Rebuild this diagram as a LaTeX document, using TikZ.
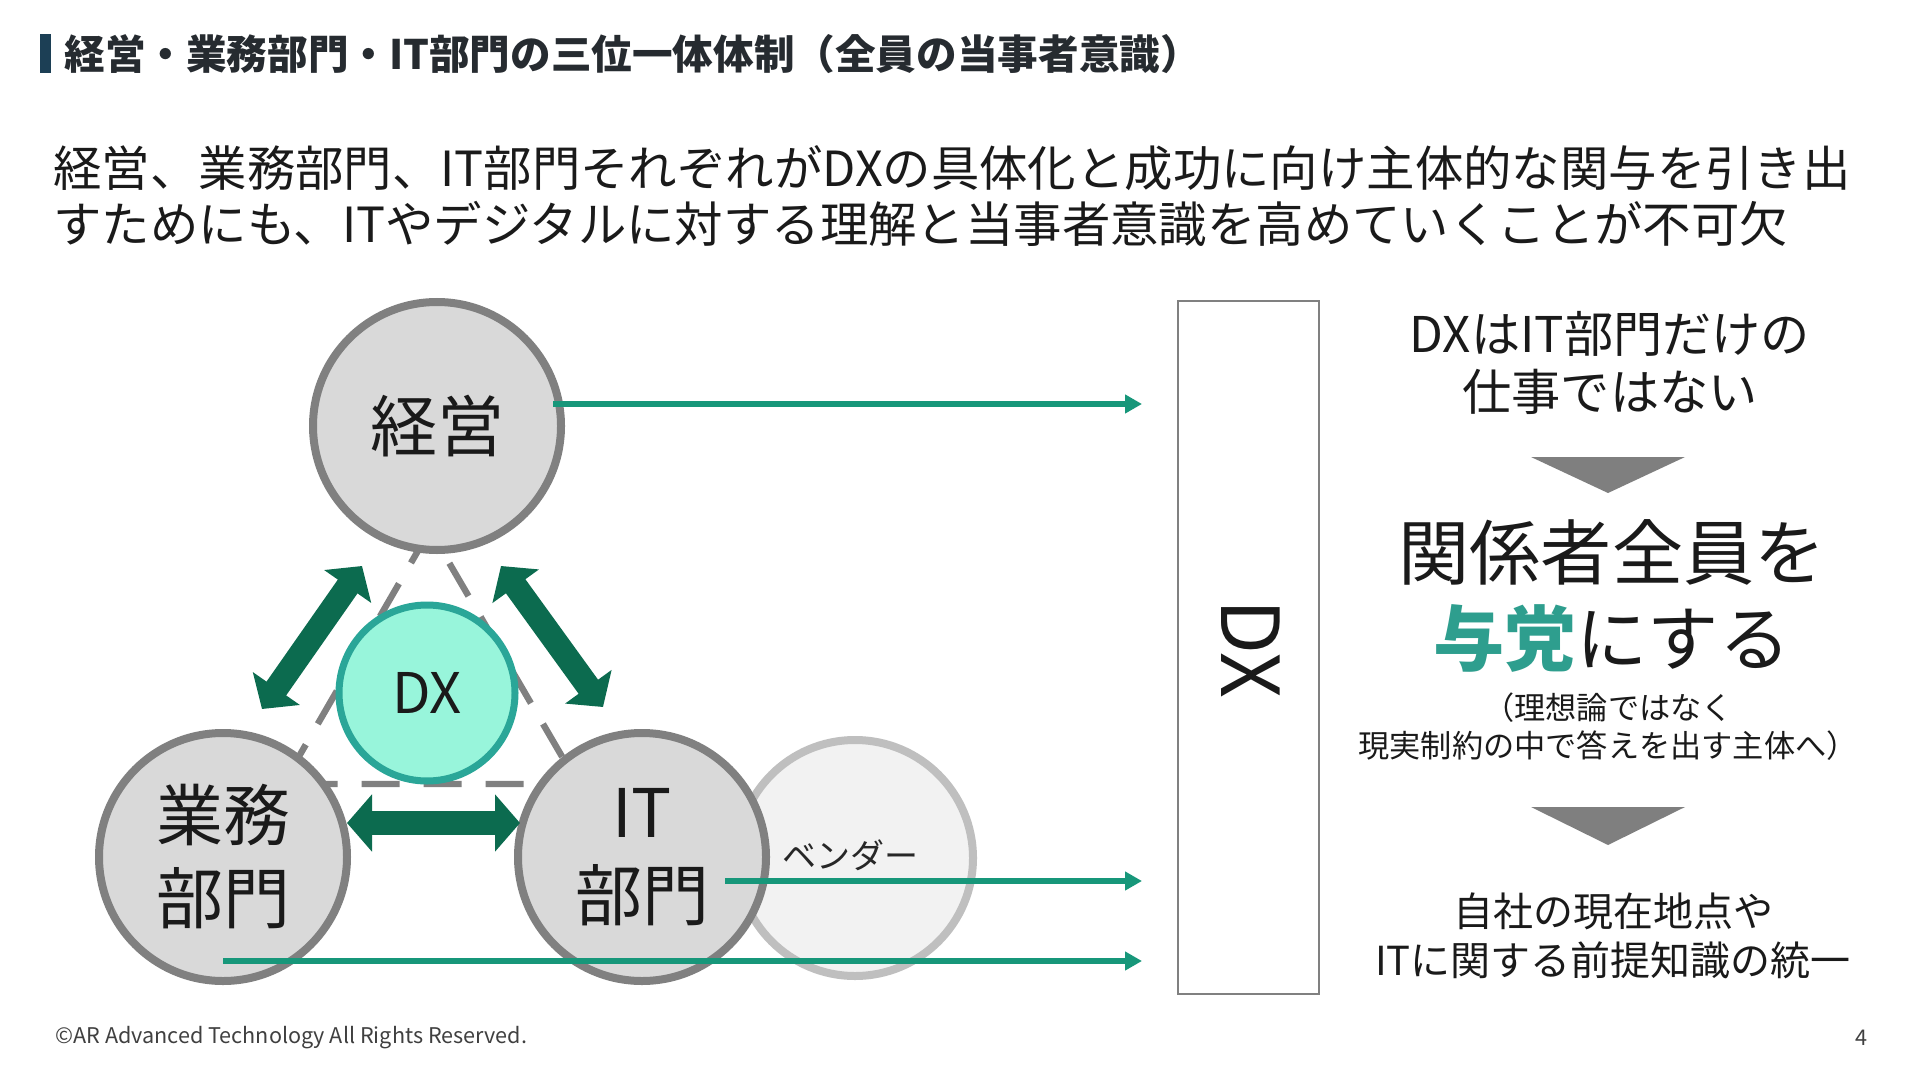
\documentclass[tikz,border=0pt]{standalone}
\usepackage{fontspec}
\setmainfont{Noto Sans CJK JP}
\usetikzlibrary{arrows.meta,calc}
\definecolor{titlebar}{HTML}{1C3F55}
\definecolor{titletext}{HTML}{262B30}
\definecolor{bodytext}{HTML}{1A1A1A}
\definecolor{circfill}{HTML}{D9D9D9}
\definecolor{circline}{HTML}{808080}
\definecolor{vendfill}{HTML}{F2F2F2}
\definecolor{vendline}{HTML}{BFBFBF}
\definecolor{dxfill}{HTML}{98F5DB}
\definecolor{dxline}{HTML}{2AA698}
\definecolor{darkg}{HTML}{0C6B4F}
\definecolor{greenc}{HTML}{17977A}
\definecolor{teal}{HTML}{2E9E8E}
\definecolor{tri}{HTML}{7F7F7F}
\definecolor{foot}{HTML}{404040}
\begin{document}
\begin{tikzpicture}[x=0.5pt,y=-0.5pt,
  party/.style={circle, draw=circline, fill=circfill, line width=4pt, minimum size=124pt, inner sep=0pt,
    text=bodytext, align=center, font=\fontsize{33.5}{41.5}\selectfont},
  vendor/.style={circle, draw=vendline, fill=vendfill, line width=4pt, minimum size=118pt, inner sep=0pt},
  dxcirc/.style={circle, draw=dxline, fill=dxfill, line width=3.5pt, minimum size=88pt, inner sep=0pt,
    text=bodytext, font=\fontsize{28}{32}\selectfont},
  dashtri/.style={draw=circline, line width=3.2pt, dash pattern=on 19pt off 12pt},
  bigarrow/.style={draw=darkg, line width=12pt, {Triangle[length=12.5pt,width=28pt]}-{Triangle[length=12.5pt,width=28pt]}},
  greenline/.style={draw=greenc, line width=3.2pt, -{Triangle[length=8.5pt,width=9pt]}},
  righttxt/.style={align=center, text=bodytext, inner sep=0pt},
  downtri/.style={fill=tri, draw=none}
]
\useasboundingbox (0,0) rectangle (1920,1080);
\fill[white] (0,0) rectangle (1920,1080);

% title
\fill[titlebar] (40,34) rectangle (51,73);
\node[anchor=west, inner sep=0pt, text=titletext, font=\fontsize{20.3}{24}\selectfont\bfseries] (title) at (64,54)
  {経営・業務部門・IT部門の三位一体体制（全員の当事者意識）};

% body text
\node[anchor=west, inner sep=0pt, text=bodytext, font=\fontsize{24.2}{28}\selectfont] (body1) at (53,168)
  {経営、業務部門、IT部門それぞれがDXの具体化と成功に向け主体的な関与を引き出};
\node[anchor=west, inner sep=0pt, text=bodytext, font=\fontsize{24.2}{28}\selectfont] (body2) at (53,224)
  {すためにも、ITやデジタルに対する理解と当事者意識を高めていくことが不可欠};

% dashed triangle
\draw[dashtri] (430,530) -- (283,784) -- (578,784) -- cycle;

% circles
\node[vendor] (vend) at (855,858) {};
\node[party] (gyomu) at (223,857) {業務\\部門};
\node[party] (it) at (642,857) {IT\\部門};
\node[party] (keiei) at (437,426) {経営};
\node[dxcirc] (dx) at (427,693) {DX};
\node[text=foot!60!black, font=\fontsize{17}{20}\selectfont, inner sep=0pt] (vendtxt) at (850,855) {ベンダー};

% double arrows
\coordinate (a1s) at (262,709); \coordinate (a1e) at (362,566);
\coordinate (a2s) at (501,566); \coordinate (a2e) at (603,707);
\coordinate (a3s) at (347,823); \coordinate (a3e) at (520,823);
\draw[bigarrow] (a1s) -- (a1e);
\draw[bigarrow] (a2s) -- (a2e);
\draw[bigarrow] (a3s) -- (a3e);

% DX box
\node[draw=circline, line width=1.2pt, minimum width=70.5pt, minimum height=346.5pt, inner sep=0pt] (dxbox) at (1248.5,647.5) {};
\node[rotate=-90, text=bodytext, font=\fontsize{40}{44}\selectfont, inner sep=0pt] (dxlabel) at (1251,649) {DX};

% green connectors
\coordinate (k1) at (553,404); \coordinate (k2) at (1142,404);
\coordinate (i1) at (725,881); \coordinate (i2) at (1142,881);
\coordinate (g1) at (223,961); \coordinate (g2) at (1142,961);
\draw[greenline] (k1) -- (k2);
\draw[greenline] (i1) -- (i2);
\draw[greenline] (g1) -- (g2);

% right column
\node[righttxt, font=\fontsize{24.6}{29}\selectfont] (r1) at (1610,363) {DXはIT部門だけの\\仕事ではない};
\fill[downtri] (1531,457) -- (1685,457) -- (1608,493) -- cycle;
\node[righttxt, font=\fontsize{35.6}{43}\selectfont] (r2) at (1612,596) {関係者全員を\\{\bfseries\color{teal}与党}にする};
\node[righttxt, font=\fontsize{15.6}{19}\selectfont] (r3) at (1608,727) {（理想論ではなく\\現実制約の中で答えを出す主体へ）};
\fill[downtri] (1531,807) -- (1685,807) -- (1608,845) -- cycle;
\node[righttxt, font=\fontsize{20}{24.5}\selectfont] (r4) at (1613,936) {自社の現在地点や\\ITに関する前提知識の統一};

% footer
\node[anchor=west, inner sep=0pt, text=foot, font=\fontsize{10.8}{13}\selectfont] (footer) at (55,1038) {©AR Advanced Technology All Rights Reserved.};
\node[inner sep=0pt, text=foot, font=\fontsize{10.8}{13}\selectfont] (pagenum) at (1861,1038) {4};
\end{tikzpicture}
\end{document}
